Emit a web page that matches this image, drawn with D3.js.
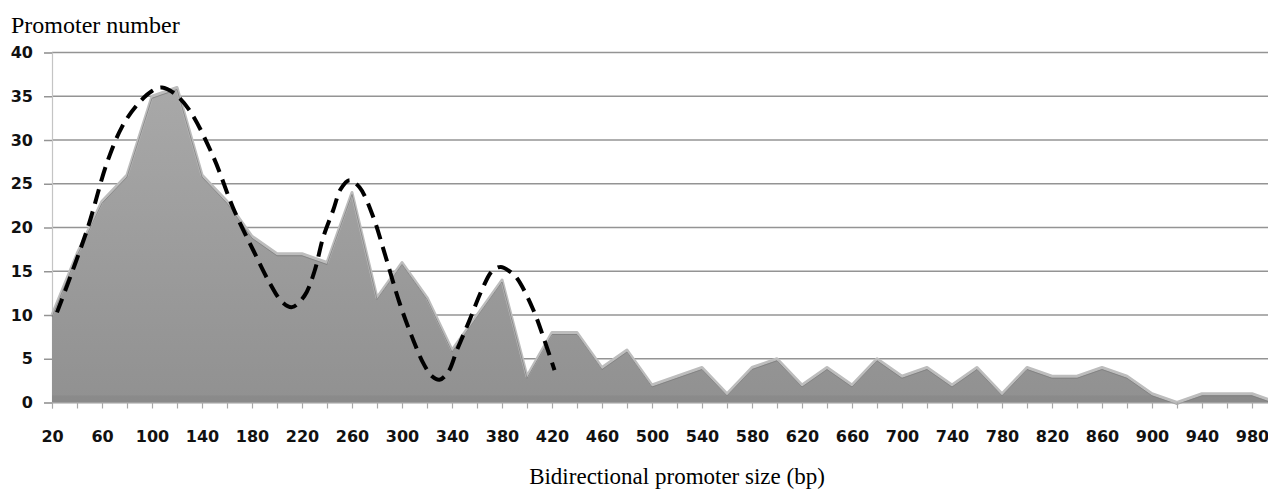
<!DOCTYPE html>
<html>
<head>
<meta charset="utf-8">
<script src="https://cdn.jsdelivr.net/npm/d3@7/dist/d3.min.js"></script>
<style>
  html, body { margin: 0; padding: 0; background: #ffffff; }
  svg { display: block; }
</style>
</head>
<body>
<svg id="chart" width="1268" height="492"></svg>
<script>
// ---- Data ----
const categories = [20,40,60,80,100,120,140,160,180,200,220,240,260,280,300,320,340,360,380,400,
  420,440,460,480,500,520,540,560,580,600,620,640,660,680,700,720,740,760,780,800,
  820,840,860,880,900,920,940,960,980,1000];
const promoterCounts = [10,17,23,26,35,36,26,23,19,17,17,16,24,12,16,12,6,10,14,3,
  8,8,4,6,2,3,4,1,4,5,2,4,2,5,3,4,2,4,1,4,
  3,3,4,3,1,0,1,1,1,0];
const yTicks = [0,5,10,15,20,25,30,35,40];
// hand-drawn dashed annotation curve (bp, promoter number)
const curveBp  = [24,48,64,76,88,100,108,118,130,149,165,181,194,204,212,222,230,237,245,251,258,266,277,286,298,308,317,324,330,337,344,354,364,372,379,386,392,405,414,422];
const curveVal = [10.3,19.7,27.4,31.5,34,35.6,36,35.3,33.4,28.1,22.2,17.4,13.7,11.5,10.9,12.2,15,18.9,22,24.4,25.4,24.6,21.2,17.1,11.4,7.5,4.5,3,2.6,3.5,6,9.4,12.9,15,15.5,15,14.2,10.6,7.1,3.7];
const yTitle = "Promoter number";
const xTitle = "Bidirectional promoter size (bp)";

// ---- Layout ----
const W = 1268, H = 492;
const left = 52, step = 25;
const right = left + step * (categories.length - 1);
const svg = d3.select("#chart");

const x = d3.scalePoint().domain(categories).range([left, right]).padding(0);
const xLin = d3.scaleLinear().domain([categories[0], categories[categories.length-1]]).range([left, right]);
const y = d3.scaleLinear().domain([0, 40]).range([402.5, 52.5]);

// defs
const defs = svg.append("defs");
const grad = defs.append("linearGradient").attr("id","areaGrad")
  .attr("gradientUnits","userSpaceOnUse").attr("x1",0).attr("y1",80).attr("x2",0).attr("y2",400);
grad.append("stop").attr("offset","0%").attr("stop-color","#a9a9a9");
grad.append("stop").attr("offset","100%").attr("stop-color","#919191");
defs.append("clipPath").attr("id","plotClip").append("rect")
  .attr("x",0).attr("y",0).attr("width",W).attr("height",H);

// gridlines
svg.append("g").selectAll("line").data(yTicks).join("line")
  .attr("x1", left).attr("x2", W)
  .attr("y1", d => y(d)).attr("y2", d => y(d))
  .attr("stroke", "#949494").attr("stroke-width", 1.5);

// y axis
const yAxis = svg.append("g").attr("transform", `translate(${left},0)`)
  .call(d3.axisLeft(y).tickValues(yTicks).tickSize(8).tickPadding(11));
yAxis.select(".domain").attr("stroke","#c4c4c4").attr("stroke-width",1.2);
yAxis.selectAll(".tick line").attr("stroke","#949494").attr("stroke-width",1.5);
yAxis.selectAll(".tick text").attr("font-family","'DejaVu Sans', Verdana, sans-serif")
  .attr("font-weight","bold").attr("font-size","16px").attr("fill","#111");

// area
const pts = categories.map((c,i) => ({c, v: promoterCounts[i]}));
const areaGen = d3.area().x(d => x(d.c)).y0(y(0)).y1(d => y(d.v)).curve(d3.curveLinear);
const lineGen = d3.line().x(d => x(d.c)).y(d => y(d.v)).curve(d3.curveLinear);
const gArea = svg.append("g").attr("clip-path","url(#plotClip)");
gArea.append("path").datum(pts).attr("d", areaGen).attr("fill","url(#areaGrad)");
// floor band
const floorGen = d3.area().x(d => x(d.c)).y0(y(0)).y1(d => Math.max(y(d.v), y(0) - 7)).curve(d3.curveLinear);
gArea.append("path").datum(pts).attr("d", floorGen).attr("fill","#888888").attr("opacity",0.75);
// top bevel
gArea.append("path").datum(pts).attr("d", lineGen).attr("fill","none")
  .attr("stroke","#bdbdbd").attr("stroke-width",3).attr("stroke-linejoin","round");
gArea.append("path").datum(pts).attr("d", lineGen).attr("fill","none")
  .attr("transform","translate(0,2)")
  .attr("stroke","#7c7c7c").attr("stroke-width",1).attr("opacity",0.75);

// x axis
const xAxis = svg.append("g").attr("transform", `translate(0,${y(0)})`)
  .call(d3.axisBottom(x).tickSize(6).tickPadding(22)
    .tickFormat((d,i) => i % 2 === 0 ? d : ""));
xAxis.select(".domain").attr("stroke","#b5b5b5").attr("stroke-width",1);
xAxis.selectAll(".tick line").attr("stroke","#a8a8a8").attr("stroke-width",1.2);
xAxis.selectAll(".tick text").attr("font-family","'DejaVu Sans', Verdana, sans-serif")
  .attr("font-weight","bold").attr("font-size","16px").attr("fill","#111");

// dashed annotation curve
const cpts = curveBp.map((b,i) => [xLin(b), y(curveVal[i])]);
svg.append("path").datum(cpts)
  .attr("d", d3.line().curve(d3.curveCatmullRom.alpha(0.5)))
  .attr("fill","none").attr("stroke","#000").attr("stroke-width",4)
  .attr("stroke-dasharray","15,8").attr("stroke-linecap","butt");

// titles
svg.append("text").attr("x", 11).attr("y", 33).text(yTitle)
  .attr("font-family","'Liberation Serif', 'Times New Roman', serif").attr("font-size","24px").attr("fill","#000");
svg.append("text").attr("x", 677).attr("y", 484).attr("text-anchor","middle").text(xTitle)
  .attr("font-family","'Liberation Serif', 'Times New Roman', serif").attr("font-size","23px").attr("fill","#000");
</script>
</body>
</html>
